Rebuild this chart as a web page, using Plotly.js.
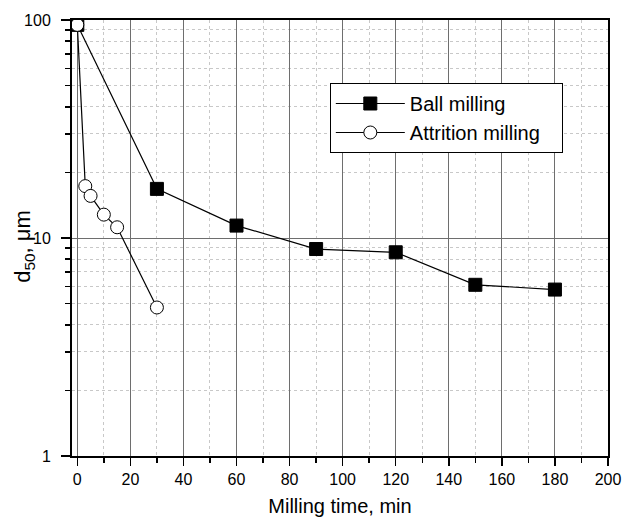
<!DOCTYPE html>
<html><head><meta charset="utf-8">
<script src="https://cdn.plot.ly/plotly-3.0.1.min.js"></script>
<style>html,body{margin:0;padding:0;background:#fff}</style>
</head><body><div id="chart" style="width:623px;height:517px"></div>
<script>
var ballTime = [0, 30, 60, 90, 120, 150, 180];
var ballD50 = [95, 16.8, 11.4, 8.9, 8.6, 6.1, 5.8];
var attrTime = [0, 3, 5, 10, 15, 30];
var attrD50 = [95, 17.3, 15.6, 12.8, 11.2, 4.8];
var xTickVals = [0, 20, 40, 60, 80, 100, 120, 140, 160, 180, 200];
var yTickVals = [1, 10, 100];
var yTickText = ['1', '10', '100'];
var yMinorVals = [2,3,4,5,6,7,8,9,20,30,40,50,60,70,80,90];
var xTitle = 'Milling time, min';
var yTitle = 'd<sub>50</sub>, μm';

var traces = [
  {x: ballTime, y: ballD50, name: 'Ball milling', type: 'scatter', mode: 'lines+markers',
   line: {color: '#000', width: 1.2},
   marker: {symbol: 'square', size: 13, color: '#000', line: {color: '#000', width: 1}}},
  {x: attrTime, y: attrD50, name: 'Attrition milling\u00a0\u00a0\u00a0', type: 'scatter', mode: 'lines+markers',
   line: {color: '#000', width: 1.2},
   marker: {symbol: 'circle', size: 13, color: '#fff', line: {color: '#000', width: 1}}}
];

var layout = {
  width: 623, height: 517,
  margin: {l: 72, r: 15, t: 20, b: 61},
  paper_bgcolor: '#fff', plot_bgcolor: '#fff',
  font: {family: 'Liberation Sans, Arial, sans-serif', size: 16, color: '#000'},
  showlegend: true,
  legend: {x: 0.481, y: 0.8555, xanchor: 'left', yanchor: 'top',
    bordercolor: '#000', borderwidth: 1, bgcolor: '#fff',
    font: {size: 20}, itemwidth: 69, tracegroupgap: 0},
  xaxis: {
    range: [-2, 200], tickvals: xTickVals, ticks: 'outside', ticklen: 8, tickwidth: 1.5, tickcolor: '#000',
    showline: true, linecolor: '#000', linewidth: 2, mirror: true,
    showgrid: true, gridcolor: '#6e6e6e', gridwidth: 1, zeroline: false,
    minor: {dtick: 10, ticks: 'outside', ticklen: 5, tickwidth: 1.5, tickcolor: '#000', showgrid: true, gridcolor: '#c8c8c8', griddash: 'dot', gridwidth: 1},
    title: {text: xTitle, font: {size: 20}, standoff: 14},
    tickfont: {size: 16}
  },
  yaxis: {
    type: 'log', range: [0, 2], tickvals: yTickVals, ticktext: yTickText,
    ticks: 'outside', ticklen: 9, tickwidth: 1.5, tickcolor: '#000', ticklabelstandoff: 7,
    showline: true, linecolor: '#000', linewidth: 2, mirror: true,
    showgrid: true, gridcolor: '#6e6e6e', gridwidth: 1, zeroline: false,
    minor: {tickvals: yMinorVals, ticks: 'outside', ticklen: 5, tickwidth: 1.5, tickcolor: '#000', showgrid: true, gridcolor: '#c8c8c8', griddash: 'dot', gridwidth: 1},
    tickfont: {size: 16}
  },
  annotations: [{
    text: yTitle, xref: 'paper', yref: 'paper', x: -0.0896, y: 0.482,
    xanchor: 'center', yanchor: 'middle', textangle: -90, showarrow: false,
    font: {size: 22}
  }]
};
Plotly.newPlot('chart', traces, layout, {displayModeBar: false, staticPlot: true});
</script></body></html>
